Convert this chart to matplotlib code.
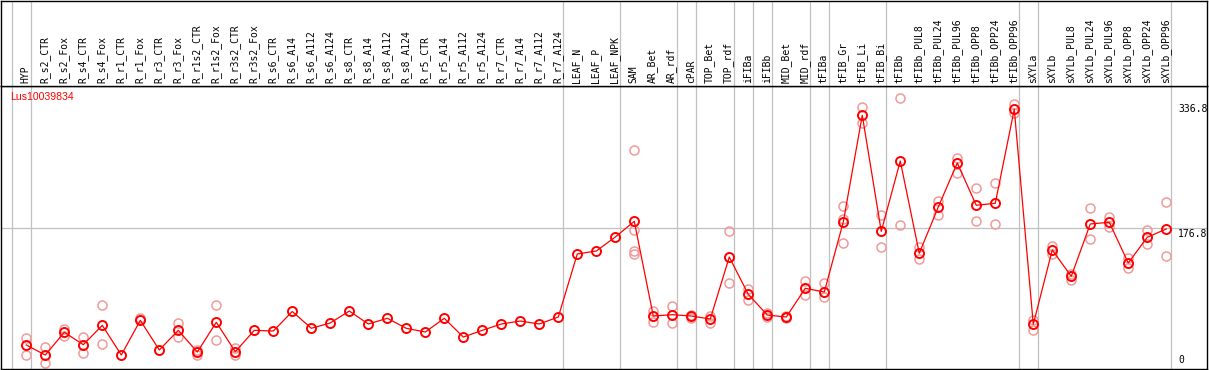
import matplotlib.pyplot as plt
from matplotlib.transforms import offset_copy

gene = 'Lus10039834'

samples = ['HYP', 'R_s2_CTR', 'R_s2_Fox', 'R_s4_CTR', 'R_s4_Fox', 'R_r1_CTR',
           'R_r1_Fox', 'R_r3_CTR', 'R_r3_Fox', 'R_r1s2_CTR', 'R_r1s2_Fox',
           'R_r3s2_CTR', 'R_r3s2_Fox', 'R_s6_CTR', 'R_s6_A14', 'R_s6_A112',
           'R_s6_A124', 'R_s8_CTR', 'R_s8_A14', 'R_s8_A112', 'R_s8_A124',
           'R_r5_CTR', 'R_r5_A14', 'R_r5_A112', 'R_r5_A124', 'R_r7_CTR',
           'R_r7_A14', 'R_r7_A112', 'R_r7_A124', 'LEAF_N', 'LEAF_P', 'LEAF_NPK',
           'SAM', 'AR_Bet', 'AR_rdf', 'cPAR', 'TOP_Bet', 'TOP_rdf', 'iFIBa',
           'iFIBb', 'MID_Bet', 'MID_rdf', 'tFIBa', 'tFIB_Gr', 'tFIB_Li',
           'tFIB_Bi', 'tFIBb', 'tFIBb_PUL8', 'tFIBb_PUL24', 'tFIBb_PUL96',
           'tFIBb_OPP8', 'tFIBb_OPP24', 'tFIBb_OPP96', 'sXYLa', 'sXYLb',
           'sXYLb_PUL8', 'sXYLb_PUL24', 'sXYLb_PUL96', 'sXYLb_OPP8',
           'sXYLb_OPP24', 'sXYLb_OPP96']

# mean expression per sample
means = [27.0, 14.2, 43.3, 27.4, 52.2, 14.2, 58.6, 20.6, 45.8, 18.0, 56.1,
         18.4, 45.8, 44.9, 69.9, 48.4, 55.2, 70.5, 53.9, 61.2, 48.4, 43.6,
         61.2, 37.2, 45.8, 53.9, 57.7, 53.9, 62.8, 143.5, 147.3, 165.2,
         185.3, 64.1, 65.8, 64.1, 60.3, 139.6, 91.9, 65.4, 62.8, 99.6, 94.8,
         184.4, 321.0, 172.5, 262.5, 144.4, 203.6, 260.0, 205.8, 208.4,
         328.7, 53.5, 148.6, 114.9, 181.9, 184.1, 132.0, 164.9, 175.5]

# individual replicates (visible ones)
replicates = [[35.6, 14.2], [24.4, 3.6], [47.5, 38.9], [36.9, 16.4],
              [77.8, 28.3], [], [62.0], [], [55.6, 37.6], [20.0, 14.2],
              [77.8, 33.0], [23.6, 14.2], [], [], [], [], [], [], [], [],
              [], [], [], [], [], [], [], [], [], [], [], [],
              [276.2, 173.8, 147.7, 143.9], [70.9, 56.1], [76.5, 55.2],
              [65.4, 61.6], [64.1, 55.6], [172.5, 106.4], [98.7, 84.2],
              [68.0, 62.8], [64.1, 61.6], [108.9, 90.6], [106.4, 88.1],
              [204.9, 188.7, 158.0], [331.3, 311.6], [193.4, 152.1],
              [342.8, 180.2], [152.8, 136.7], [211.3, 193.8], [266.8, 247.6],
              [227.6, 185.3], [234.4, 181.5], [335.5, 323.6], [59.0, 45.8],
              [154.1, 143.1], [118.5, 110.2], [202.4, 162.7], [190.5, 178.4],
              [138.8, 126.0], [174.2, 156.3], [210.0, 140.5]]

# index of the last sample in each group (-1 = left edge)
group_ends = [-1, 0, 28, 31, 34, 35, 37, 38, 39, 41, 42, 45, 52, 53, 60]
ref_line = 176.8
ytick_vals = [0, 176.8, 336.8]
ytick_text = ['0', '176.8', '336.8']

W, H = 1209, 370
fig = plt.figure(figsize=(W / 100, H / 100), dpi=100)
ax = fig.add_axes([1 / W, 1 / H, 1206.3 / W, 283 / H])
axl = fig.add_axes([1 / W, 284 / H, 1206.3 / W, 85.5 / H], sharex=ax)

x = list(range(len(samples)))
ax.set_xlim(-1.332, 62.16)
ax.set_ylim(-3.7, 358.5)
axl.set_ylim(0, 1)
for a in (ax, axl):
    a.set_xticks([])
    a.set_yticks([])
    for s in a.spines.values():
        s.set_linewidth(1.0)
        s.set_color('black')

grey = '#c0c0c0'
for b in group_ends:
    ax.axvline(b + 0.23, color=grey, lw=0.9, zorder=1)
    axl.axvline(b + 0.23, color=grey, lw=0.9, zorder=1)
ax.axhline(ref_line, color=grey, lw=0.9, zorder=1)

# sample labels
lab_tr = offset_copy(axl.transData, fig=fig, x=-0.5, y=3, units='dots')
for i, name in enumerate(samples):
    axl.text(i, 0, name, rotation=90, ha='center', va='bottom',
             family='DejaVu Sans Mono', fontsize=7, transform=lab_tr)

# replicates
rx, ry = [], []
for i, reps in enumerate(replicates):
    for v in reps:
        rx.append(i)
        ry.append(v)
ax.plot(rx, ry, 'o', ms=6.5, mfc='none', mec='#f09a9a', mew=1.1, zorder=2)

# mean line
ax.plot(x, means, '-', color='red', lw=0.9, zorder=3)
ax.plot(x, means, 'o', ms=6.5, mfc='none', mec='red', mew=1.4, zorder=4)

ax.text(9 / 1206, 1 - 11.5 / 283, gene, transform=ax.transAxes, color='red',
        family='Liberation Sans', fontsize=7.6, ha='left', va='center')

# value labels on the right
for v, t in zip(ytick_vals, ytick_text):
    if v == 0:
        tr = offset_copy(ax.transData, fig=fig, y=1, units='dots')
        va = 'bottom'
    else:
        tr = offset_copy(ax.transData, fig=fig, y=-1, units='dots')
        va = 'top'
    ax.text(60.63, v, t, transform=tr, ha='left', va=va,
            family='DejaVu Sans Mono', fontsize=7, clip_on=True)

fig.savefig('out.png', dpi=100)
